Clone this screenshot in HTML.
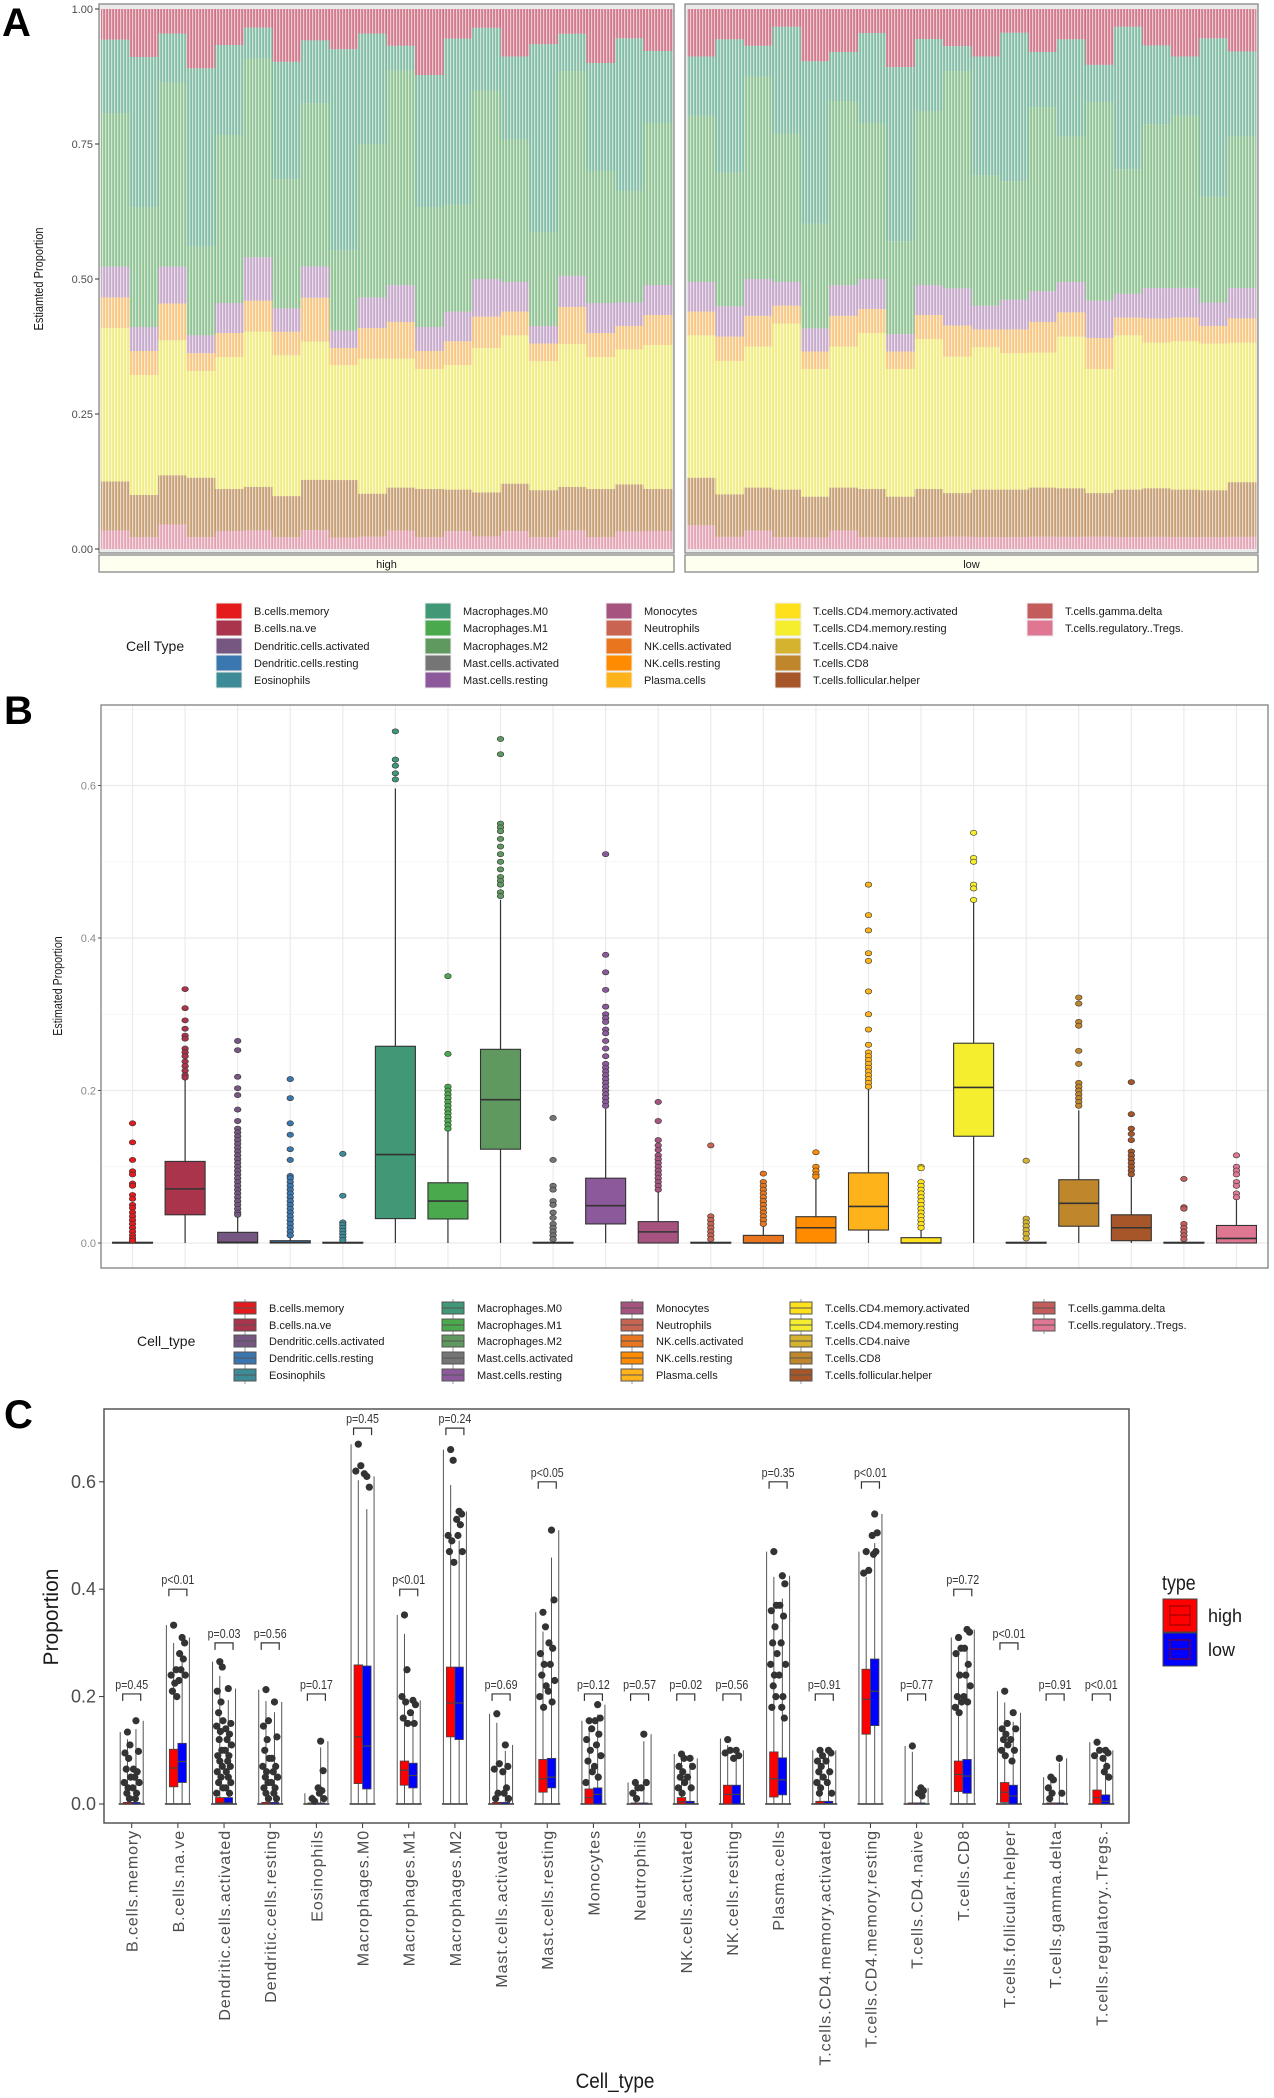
<!DOCTYPE html>
<html><head><meta charset="utf-8"><style>
html,body{margin:0;padding:0;background:#fff;}
svg{display:block;font-family:"Liberation Sans",sans-serif;}
.narrow{font-family:"Liberation Sans Narrow","Liberation Sans",sans-serif;}
</style></head><body>
<svg id="fig" width="1274" height="2098" viewBox="0 0 1274 2098" xmlns="http://www.w3.org/2000/svg">
<defs>
<pattern id="stripes" width="3" height="10" patternUnits="userSpaceOnUse"><rect x="0" y="0" width="1.2" height="10" fill="#fff" opacity="0.6"/></pattern>
</defs>
<text x="2" y="36" font-size="40" font-weight="bold">A</text>
<text x="4" y="724" font-size="40" font-weight="bold">B</text>
<text x="4" y="1428" font-size="40" font-weight="bold">C</text>
<g id="pa"></g>
<g id="pb"></g>
<g id="pc"></g>
</svg>
<script>
const NS="http://www.w3.org/2000/svg";
function mk(p,tag,at,txt){const e=document.createElementNS(NS,tag);for(const k in at)e.setAttribute(k,at[k]);if(txt!==undefined)e.textContent=txt;p.appendChild(e);return e;}

// ===== common categories / colors =====
const cellTypes=["B.cells.memory","B.cells.na.ve","Dendritic.cells.activated","Dendritic.cells.resting","Eosinophils","Macrophages.M0","Macrophages.M1","Macrophages.M2","Mast.cells.activated","Mast.cells.resting","Monocytes","Neutrophils","NK.cells.activated","NK.cells.resting","Plasma.cells","T.cells.CD4.memory.activated","T.cells.CD4.memory.resting","T.cells.CD4.naive","T.cells.CD8","T.cells.follicular.helper","T.cells.gamma.delta","T.cells.regulatory..Tregs."];
const cellColors=["#E41A1C","#A9344B","#755781","#3A76AF","#3D8B97","#419876","#49A94C","#5F9960","#757575","#8C5A9A","#A7537F","#C96352","#E9751E","#FF8C00","#FFB31A","#FFE01C","#F5EE2F","#D6B32F","#BF862B","#A65628","#C45C5C","#E07792"];

// ===== Panel A data (grouped components per sample) =====
const aComponents=["B.cells.na.ve","Macrophages.M0","Macrophages.M1/M2","Myeloid/Mast","Plasma/NK","T.cells.CD4.memory.resting","T.cells.CD8/Tfh","Tregs/gamma.delta"];
const aCompColors=["#C0304E","#41A07C","#55AA5A","#B080B8","#FFB040","#F5EE40","#B0702A","#E07792"];
const aHighBnaive=[0.05,0.08,0.04,0.10,0.06,0.03,0.09,0.05,0.07,0.04,0.06,0.11,0.05,0.03,0.08,0.06,0.04,0.09,0.05,0.07];
const aHighM0=[0.12,0.25,0.08,0.30,0.15,0.05,0.20,0.10,0.35,0.18,0.04,0.22,0.28,0.10,0.14,0.32,0.06,0.18,0.26,0.12];
const aHighM12=[0.25,0.20,0.30,0.15,0.28,0.32,0.22,0.26,0.14,0.25,0.35,0.20,0.18,0.30,0.24,0.16,0.33,0.22,0.19,0.27];
const aHighPurple=[0.05,0.04,0.06,0.03,0.05,0.07,0.04,0.05,0.03,0.05,0.06,0.04,0.05,0.06,0.05,0.03,0.05,0.05,0.04,0.05];
const aHighOrange=[0.05,0.04,0.06,0.03,0.04,0.05,0.04,0.07,0.03,0.05,0.06,0.03,0.04,0.05,0.04,0.03,0.06,0.04,0.04,0.05];
const aHighYellow=[0.25,0.20,0.22,0.18,0.22,0.25,0.24,0.22,0.20,0.22,0.21,0.20,0.21,0.23,0.25,0.22,0.23,0.22,0.23,0.24];
const aHighBrown=[0.08,0.07,0.08,0.10,0.07,0.07,0.07,0.08,0.10,0.07,0.07,0.08,0.07,0.07,0.08,0.08,0.07,0.08,0.08,0.07];
const aHighPink=[0.03,0.02,0.04,0.02,0.03,0.03,0.02,0.03,0.02,0.02,0.03,0.02,0.03,0.02,0.03,0.02,0.03,0.02,0.03,0.03];
const aLowBnaive=[0.08,0.05,0.06,0.03,0.09,0.07,0.04,0.10,0.05,0.06,0.08,0.04,0.07,0.05,0.09,0.03,0.06,0.08,0.05,0.07];
const aLowM0=[0.10,0.22,0.05,0.18,0.28,0.08,0.15,0.30,0.12,0.04,0.20,0.25,0.09,0.16,0.06,0.24,0.13,0.10,0.27,0.14];
const aLowM12=[0.28,0.22,0.33,0.25,0.18,0.30,0.26,0.16,0.29,0.35,0.22,0.20,0.30,0.24,0.32,0.21,0.27,0.29,0.18,0.25];
const aLowPurple=[0.05,0.05,0.06,0.04,0.04,0.05,0.05,0.03,0.05,0.06,0.04,0.05,0.05,0.05,0.06,0.04,0.05,0.05,0.04,0.05];
const aLowOrange=[0.04,0.04,0.05,0.03,0.03,0.05,0.04,0.03,0.04,0.05,0.03,0.04,0.05,0.04,0.05,0.03,0.04,0.04,0.03,0.04];
const aLowYellow=[0.24,0.22,0.23,0.28,0.22,0.23,0.26,0.22,0.25,0.22,0.24,0.23,0.22,0.25,0.20,0.26,0.24,0.25,0.25,0.23];
const aLowBrown=[0.08,0.07,0.07,0.08,0.07,0.07,0.08,0.07,0.08,0.07,0.08,0.08,0.08,0.08,0.07,0.08,0.08,0.08,0.08,0.09];
const aLowPink=[0.04,0.02,0.03,0.02,0.02,0.03,0.02,0.02,0.02,0.02,0.02,0.02,0.02,0.02,0.02,0.02,0.02,0.02,0.02,0.02];
const aTickLabels=["0.00","0.25","0.50","0.75","1.00"];
const aTickValues=[0,0.25,0.5,0.75,1];

(function(){
  const g=document.getElementById('pa');
  const y0=549,y1=9;
  const yA=v=>y0-(y0-y1)*v;
  const facets=[{name:"high",x0:99,x1:674,data:[aHighBnaive,aHighM0,aHighM12,aHighPurple,aHighOrange,aHighYellow,aHighBrown,aHighPink]},
                {name:"low",x0:685,x1:1258,data:[aLowBnaive,aLowM0,aLowM12,aLowPurple,aLowOrange,aLowYellow,aLowBrown,aLowPink]}];
  facets.forEach(f=>{
    const fg=mk(g,'g',{});
    
    
    const bg=mk(fg,'rect',{x:f.x0,y:4,width:f.x1-f.x0,height:549,fill:"#ebebeb",stroke:"#7f7f7f","stroke-width":1.2});
    
    
    const n=f.data[0].length;
    const bw=(f.x1-f.x0-4)/n;
    for(let i=0;i<n;i++){
      let tot=0;f.data.forEach(a=>tot+=a[i]);
      let cum=0;
      f.data.forEach((a,k)=>{
        const v=a[i]/tot;
        const top=1-cum, bot=1-cum-v;
        const r=mk(fg,'rect',{x:f.x0+2+i*bw,y:yA(top),width:bw+0.3,height:yA(bot)-yA(top),fill:aCompColors[k],opacity:0.6});
        
        
        cum+=v;
      });
    }
    mk(fg,'rect',{x:f.x0+2,y:yA(1),width:f.x1-f.x0-4,height:yA(0)-yA(1),fill:"url(#stripes)"});
    const strip=mk(fg,'rect',{x:f.x0,y:555,width:f.x1-f.x0,height:17,fill:"#fffff0",stroke:"#7f7f7f","stroke-width":1.2});
    
    
    const st=mk(fg,'text',{x:(f.x0+f.x1)/2,y:568,"font-size":11,"text-anchor":"middle",fill:"#1a1a1a"},f.name);
    
    
  });
  aTickValues.forEach((v,i)=>{
    mk(g,'line',{x1:95,x2:99,y1:yA(v),y2:yA(v),stroke:"#333"});
    const t=mk(g,'text',{x:93,y:yA(v)+4,"font-size":11,"text-anchor":"end",fill:"#4d4d4d"},aTickLabels[i]);
    
    
  });
  const yt=mk(g,'text',{x:0,y:0,"font-size":13,"text-anchor":"middle",fill:"#1a1a1a",transform:"translate(43,279) rotate(-90) scale(0.85,1)"},"Estiamted Proportion");
  
  
  const lg=mk(g,'g',{});
  
  
  const lt=mk(lg,'text',{x:126,y:651,"font-size":14,fill:"#1a1a1a"},"Cell Type");
  
  
  const colX=[216,425,606,775,1027];
  const rows=[611,628,646,663,680];
  const perCol=[5,5,5,5,2];
  let idx=0;
  perCol.forEach((c,ci)=>{for(let r=0;r<c;r++){
    const e=mk(lg,'g',{});
    
    
    mk(e,'rect',{x:colX[ci],y:rows[r]-8,width:26,height:16,fill:cellColors[idx],stroke:"#eee","stroke-width":1});
    mk(e,'text',{x:colX[ci]+38,y:rows[r]+4,"font-size":11,fill:"#1a1a1a"},cellTypes[idx]);
    idx++;
  }});
})();

// ===== Panel B data =====
const bQ1=[0,0.037,0,0,0,0.032,0.0315,0.123,0,0.025,0,0,0,0,0.017,0,0.14,0,0.022,0.003,0,0];
const bMed=[0,0.071,0.001,0.0005,0,0.116,0.055,0.188,0,0.049,0.0146,0,0,0.02,0.048,0,0.204,0,0.052,0.02,0,0.006];
const bQ3=[0.001,0.107,0.014,0.003,0.001,0.258,0.079,0.254,0.001,0.085,0.028,0.001,0.01,0.0345,0.092,0.007,0.262,0.001,0.083,0.037,0.001,0.023];
const bWhiskLo=[0,0,0,0,0,0,0,0,0,0,0,0,0,0,0,0,0,0,0,0,0,0];
const bWhiskHi=[0.001,0.215,0.035,0.008,0.001,0.596,0.147,0.45,0.001,0.176,0.069,0.001,0.023,0.084,0.203,0.017,0.447,0.001,0.174,0.086,0.001,0.057];
const bOutliers=[
[0.157,0.132,0.109,0.094,0.09,0.078,0.075,0.063,0.058,0.05,0.046,0.04,0.035,0.03,0.025,0.02,0.015,0.01,0.006,0.003],
[0.333,0.308,0.292,0.281,0.272,0.268,0.255,0.25,0.245,0.238,0.232,0.226,0.22,0.217],
[0.265,0.253,0.218,0.203,0.194,0.175,0.16,0.15,0.145,0.14,0.135,0.13,0.125,0.12,0.115,0.11,0.105,0.1,0.095,0.09,0.085,0.08,0.075,0.07,0.065,0.06,0.055,0.05,0.045,0.04,0.037],
[0.215,0.19,0.157,0.142,0.123,0.109,0.088,0.085,0.08,0.075,0.07,0.065,0.06,0.055,0.05,0.045,0.04,0.035,0.03,0.025,0.02,0.015,0.01],
[0.117,0.062,0.027,0.024,0.02,0.016,0.012,0.008,0.004],
[0.671,0.634,0.626,0.616,0.608],
[0.35,0.248,0.205,0.2,0.195,0.19,0.185,0.18,0.175,0.17,0.165,0.16,0.155,0.15],
[0.661,0.641,0.55,0.545,0.54,0.53,0.52,0.51,0.5,0.49,0.48,0.475,0.47,0.46,0.455],
[0.164,0.109,0.075,0.07,0.055,0.05,0.04,0.033,0.025,0.02,0.015,0.01,0.005],
[0.51,0.378,0.355,0.332,0.31,0.3,0.295,0.29,0.28,0.275,0.265,0.255,0.245,0.235,0.23,0.225,0.22,0.215,0.21,0.205,0.2,0.195,0.19,0.185,0.18],
[0.185,0.16,0.135,0.128,0.122,0.115,0.11,0.105,0.1,0.095,0.09,0.085,0.08,0.075,0.07],
[0.128,0.035,0.03,0.025,0.02,0.015,0.01,0.005],
[0.091,0.08,0.075,0.07,0.065,0.06,0.055,0.05,0.045,0.04,0.035,0.03,0.025],
[0.119,0.1,0.095,0.09,0.087],
[0.47,0.43,0.41,0.38,0.37,0.33,0.3,0.28,0.26,0.25,0.245,0.24,0.235,0.23,0.225,0.22,0.215,0.21,0.205],
[0.1,0.098,0.08,0.075,0.07,0.065,0.06,0.055,0.05,0.045,0.04,0.035,0.03,0.025,0.02],
[0.538,0.505,0.5,0.47,0.465,0.45],
[0.108,0.032,0.027,0.022,0.017,0.012,0.006],
[0.322,0.314,0.29,0.285,0.252,0.235,0.21,0.205,0.2,0.195,0.19,0.185,0.18],
[0.211,0.169,0.15,0.143,0.135,0.12,0.115,0.11,0.105,0.1,0.095,0.09],
[0.084,0.047,0.045,0.025,0.02,0.015,0.01,0.005],
[0.115,0.1,0.095,0.09,0.08,0.075,0.065,0.06]];
const bTickValues=[0,0.2,0.4,0.6];
const bTickLabels=["0.0","0.2","0.4","0.6"];

(function(){
  const g=document.getElementById('pb');
  const L=101,R=1268,T=705,B=1268;
  const yB=v=>1243-v*762.5;
  const step=(R-L)/(cellTypes.length-1+1.2);
  const xB=i=>L+step*(0.6+i);
  const frame=mk(g,'rect',{x:L,y:T,width:R-L,height:B-T,fill:"#fff"});
  
  
  [0.1,0.3,0.5,0.7].forEach(v=>{if(yB(v)>T)mk(g,'line',{x1:L,x2:R,y1:yB(v),y2:yB(v),stroke:"#f3f3f3","stroke-width":0.8});});
  bTickValues.forEach(v=>mk(g,'line',{x1:L,x2:R,y1:yB(v),y2:yB(v),stroke:"#ebebeb","stroke-width":1.2}));
  cellTypes.forEach((c,i)=>mk(g,'line',{x1:xB(i),x2:xB(i),y1:T,y2:B,stroke:"#ebebeb","stroke-width":1.2}));
  const bw=40;
  cellTypes.forEach((c,i)=>{
    const bx=mk(g,'g',{});
    
    
    const x=xB(i);
    mk(bx,'line',{x1:x,x2:x,y1:yB(bWhiskHi[i]),y2:yB(bQ3[i]),stroke:"#333","stroke-width":1.2});
    mk(bx,'line',{x1:x,x2:x,y1:yB(bQ1[i]),y2:yB(bWhiskLo[i]),stroke:"#333","stroke-width":1.2});
    mk(bx,'rect',{x:x-bw/2,y:yB(bQ3[i]),width:bw,height:Math.max(0.6,yB(bQ1[i])-yB(bQ3[i])),fill:cellColors[i],stroke:"#333","stroke-width":1.1});
    mk(bx,'line',{x1:x-bw/2,x2:x+bw/2,y1:yB(bMed[i]),y2:yB(bMed[i]),stroke:"#333","stroke-width":1.6});
    bOutliers[i].forEach(v=>{
      const o=mk(bx,'ellipse',{cx:x,cy:yB(v),rx:3.3,ry:2.6,fill:cellColors[i],stroke:"#333","stroke-width":0.6});
      
      
    });
  });
  mk(g,'rect',{x:L,y:T,width:R-L,height:B-T,fill:"none",stroke:"#7f7f7f","stroke-width":1.3});
  bTickValues.forEach((v,i)=>{
    mk(g,'line',{x1:L-3,x2:L,y1:yB(v),y2:yB(v),stroke:"#555"});
    const t=mk(g,'text',{x:L-5,y:yB(v)+4,"font-size":11,"text-anchor":"end",fill:"#8a8a8a"},bTickLabels[i]);
    
    
  });
  const yt=mk(g,'text',{x:0,y:0,"font-size":13,"text-anchor":"middle",fill:"#1a1a1a",transform:"translate(62,986) rotate(-90) scale(0.82,1)"},"Estimated Proportion");
  
  
  const lg=mk(g,'g',{});
  
  
  const lt=mk(lg,'text',{x:137,y:1346,"font-size":14,fill:"#1a1a1a"},"Cell_type");
  
  
  const colX=[233,441,620,789,1032];
  const rows=[1308,1325,1341,1358,1375];
  const perCol=[5,5,5,5,2];
  let idx=0;
  perCol.forEach((c,ci)=>{for(let r=0;r<c;r++){
    const e=mk(lg,'g',{});
    
    
    const x=colX[ci],y=rows[r];
    mk(e,'line',{x1:x+12,x2:x+12,y1:y-9,y2:y+9,stroke:"#999","stroke-width":1});
    mk(e,'rect',{x:x+1,y:y-6,width:22,height:12,fill:cellColors[idx],stroke:"#555","stroke-width":1});
    mk(e,'line',{x1:x+1,x2:x+23,y1:y,y2:y,stroke:"#555","stroke-width":1});
    mk(e,'text',{x:x+36,y:y+4,"font-size":11,fill:"#1a1a1a"},cellTypes[idx]);
    idx++;
  }});
})();

// ===== Panel C data =====
const cHighQ1=[0,0.032,0,0,0,0.038,0.035,0.125,0,0.022,0,0,0,0,0.013,0,0.13,0,0.023,0.003,0,0];
const cHighMed=[0,0.067,0.002,0,0,0.125,0.063,0.188,0,0.047,0.012,0,0.004,0.018,0.047,0.001,0.195,0,0.055,0.022,0,0.012];
const cHighQ3=[0.003,0.102,0.012,0.003,0.002,0.259,0.08,0.255,0.003,0.083,0.028,0.002,0.012,0.035,0.097,0.005,0.251,0.002,0.08,0.04,0.002,0.026];
const cHighMax=[0.134,0.333,0.265,0.213,0.02,0.67,0.352,0.66,0.168,0.357,0.155,0.04,0.093,0.122,0.47,0.1,0.47,0.108,0.31,0.21,0.05,0.115];
const cLowQ1=[0,0.04,0,0,0,0.028,0.03,0.12,0,0.03,0,0,0,0,0.017,0,0.146,0,0.02,0,0,0];
const cLowMed=[0,0.079,0.002,0,0,0.108,0.053,0.188,0,0.05,0.018,0,0.001,0.018,0.045,0.001,0.21,0,0.052,0.015,0,0.005];
const cLowQ3=[0.003,0.113,0.012,0.003,0.002,0.257,0.076,0.255,0.003,0.085,0.03,0.002,0.005,0.035,0.086,0.005,0.27,0.002,0.083,0.035,0.002,0.017];
const cLowMax=[0.155,0.31,0.215,0.19,0.117,0.61,0.193,0.545,0.11,0.51,0.185,0.13,0.085,0.1,0.425,0.1,0.54,0.03,0.325,0.17,0.085,0.1];
const cHighPts=[[0.134,0.11,0.095,0.085,0.065,0.05,0.04,0.03,0.02,0.01],[0.333,0.25,0.24,0.225,0.21,0.2],[0.265,0.255,0.21,0.19,0.17,0.155,0.145,0.135,0.12,0.1,0.09,0.08,0.07,0.06,0.05,0.04,0.03,0.02],[0.213,0.155,0.145,0.12,0.1,0.085,0.07,0.06,0.05,0.04,0.03,0.02,0.01],[0.01,0.005],[0.67,0.63,0.62],[0.352,0.25,0.2,0.19,0.16,0.15],[0.66,0.64,0.5,0.49,0.47,0.45],[0.168,0.075,0.065,0.02,0.01],[0.357,0.33,0.28,0.26,0.24,0.22,0.2,0.18],[0.155,0.14,0.12,0.1,0.08,0.06,0.04],[0.04,0.03,0.02,0.01],[0.093,0.085,0.07,0.06,0.05,0.04,0.03,0.02],[0.12,0.1,0.095],[0.47,0.37,0.36,0.33,0.3,0.28,0.26,0.24,0.22,0.2,0.18],[0.1,0.09,0.08,0.07,0.06,0.05,0.04,0.03,0.02],[0.47,0.435,0.43],[0.108],[0.31,0.29,0.28,0.24,0.2,0.19,0.18,0.17],[0.21,0.15,0.14,0.13,0.12,0.11,0.1,0.09],[0.05,0.045,0.03,0.02,0.01],[0.115,0.1,0.09]];
const cLowPts=[[0.155,0.098,0.065,0.06,0.05,0.04,0.03,0.02,0.01],[0.31,0.3,0.28,0.27,0.25,0.24,0.23],[0.215,0.15,0.14,0.13,0.12,0.11,0.1,0.09,0.08,0.07,0.06,0.05,0.04,0.03,0.02],[0.19,0.125,0.085,0.07,0.06,0.05,0.04,0.03,0.02,0.01],[0.117,0.062,0.03,0.025,0.02,0.01],[0.61,0.59,0.615],[0.193,0.185,0.17,0.15],[0.545,0.54,0.53,0.52,0.5,0.47],[0.11,0.07,0.06,0.03,0.02,0.01],[0.51,0.38,0.3,0.29,0.26,0.23,0.21,0.19],[0.185,0.16,0.155,0.13,0.11,0.09,0.07,0.05],[0.13,0.04,0.03],[0.085,0.07,0.05,0.03],[0.1,0.09,0.085],[0.425,0.41,0.37,0.35,0.3,0.26,0.24,0.2,0.18,0.16],[0.1,0.095,0.08,0.06,0.04,0.02],[0.54,0.505,0.5,0.47,0.465],[0.03,0.025,0.02,0.015],[0.325,0.32,0.29,0.26,0.24,0.22,0.2,0.19],[0.17,0.14,0.12,0.1,0.08],[0.085,0.02],[0.1,0.095,0.085,0.07,0.06,0.05]];
const cPvals=["p=0.45","p<0.01","p=0.03","p=0.56","p=0.17","p=0.45","p<0.01","p=0.24","p=0.69","p<0.05","p=0.12","p=0.57","p=0.02","p=0.56","p=0.35","p=0.91","p<0.01","p=0.77","p=0.72","p<0.01","p=0.91","p<0.01"];
const cBracketY=[0.205,0.4,0.3,0.3,0.205,0.7,0.4,0.7,0.205,0.6,0.205,0.205,0.205,0.205,0.6,0.205,0.6,0.205,0.4,0.3,0.205,0.205];
const cTickValues=[0,0.2,0.4,0.6];
const cTickLabels=["0.0","0.2","0.4","0.6"];

(function(){
  const g=document.getElementById('pc');
  const L=104,R=1129,T=1409,B=1823;
  const yC=v=>1804-v*537;
  const step=(R-L)/(cellTypes.length-1+1.2);
  const xC=i=>L+step*(0.6+i);
  const jit=[0,2.5,-2.5,1.2,-1.2,3.2,-3.2,0.6,-0.6,2,-2];
  cellTypes.forEach((c,i)=>{
    const cg=mk(g,'g',{});
    
    
    const x=xC(i),w=8.5;
    const sides=[{q1:cHighQ1,md:cHighMed,q3:cHighQ3,mx:cHighMax,pts:cHighPts,col:"#FF0000",x0:x-w,name:"high"},
                 {q1:cLowQ1,md:cLowMed,q3:cLowQ3,mx:cLowMax,pts:cLowPts,col:"#0000FF",x0:x,name:"low"}];
    mk(cg,'line',{x1:x-13,x2:x+13,y1:yC(0),y2:yC(0),stroke:"#333","stroke-width":1.5});
    sides.forEach((s,k)=>{
      const outer=k===0?x-w-3:x+w+3;
      mk(cg,'line',{x1:outer,x2:outer,y1:yC(0),y2:yC(s.mx[i]),stroke:"#555","stroke-width":1});
      mk(cg,'line',{x1:s.x0+w/2,x2:s.x0+w/2,y1:yC(0),y2:yC(s.mx[i]*0.9),stroke:"#555","stroke-width":1});
      const bx=mk(cg,'rect',{x:s.x0,y:yC(s.q3[i]),width:w,height:Math.max(0.8,yC(s.q1[i])-yC(s.q3[i])),fill:s.col,stroke:"#444","stroke-width":0.8});
      
      
      mk(cg,'line',{x1:s.x0,x2:s.x0+w,y1:yC(s.md[i]),y2:yC(s.md[i]),stroke:"#444","stroke-width":1.2});
      s.pts[i].forEach((v,j)=>{
        const p=mk(cg,'circle',{cx:s.x0+w/2+jit[j%jit.length],cy:yC(v),r:3.6,fill:"#333"});
        
        
      });
    });
    const by=yC(cBracketY[i]);
    mk(cg,'path',{d:`M${x-9},${by+7}V${by}H${x+9}V${by+7}`,fill:"none",stroke:"#333","stroke-width":1.2});
    const pt=mk(cg,'text',{x:x,y:by-5,"font-size":13,"text-anchor":"middle",fill:"#333",class:"narrow",transform:`translate(${x},0) scale(0.82,1) translate(${-x},0)`},cPvals[i]);
    
    
    mk(g,'line',{x1:x,x2:x,y1:B,y2:B+5,stroke:"#333"});
    const xl=mk(g,'text',{x:0,y:0,"font-size":16,"letter-spacing":"0.9","text-anchor":"end",fill:"#4d4d4d",transform:`translate(${x+6},1830) rotate(-90)`},c);
    
    
  });
  const fr=mk(g,'rect',{x:L,y:T,width:R-L,height:B-T,fill:"none",stroke:"#555","stroke-width":1.5});
  
  
  cTickValues.forEach((v,i)=>{
    mk(g,'line',{x1:L-5,x2:L,y1:yC(v),y2:yC(v),stroke:"#333"});
    const t=mk(g,'text',{x:L-8,y:yC(v)+6,"font-size":18,"text-anchor":"end",fill:"#4d4d4d"},cTickLabels[i]);
    
    
  });
  const yt=mk(g,'text',{x:0,y:0,"font-size":21,"text-anchor":"middle",fill:"#1a1a1a",transform:"translate(58,1617) rotate(-90)"},"Proportion");
  
  
  const xt=mk(g,'text',{x:0,y:0,"font-size":21,"text-anchor":"middle",fill:"#1a1a1a",transform:"translate(615,2088) scale(0.9,1)"},"Cell_type");
  
  
  const lg=mk(g,'g',{});
  
  
  const lt=mk(lg,'text',{x:1162,y:1590,"font-size":21,fill:"#1a1a1a",transform:"translate(1162,0) scale(0.85,1) translate(-1162,0)"},"type");
  
  
  [["high","#FF0000",1599],["low","#0000FF",1633]].forEach(d=>{
    const e=mk(lg,'g',{});
    
    
    mk(e,'rect',{x:1163,y:d[2],width:34,height:33,fill:d[1],stroke:"#444","stroke-width":1});
    mk(e,'rect',{x:1170,y:d[2]+7,width:20,height:19,fill:"none",stroke:"#8b0000","stroke-width":1});
    mk(e,'line',{x1:1170,x2:1190,y1:d[2]+16,y2:d[2]+16,stroke:"#8b0000","stroke-width":1});
    mk(e,'text',{x:1208,y:d[2]+23,"font-size":18,fill:"#1a1a1a"},d[0]);
  });
})();
</script>
</body></html>
